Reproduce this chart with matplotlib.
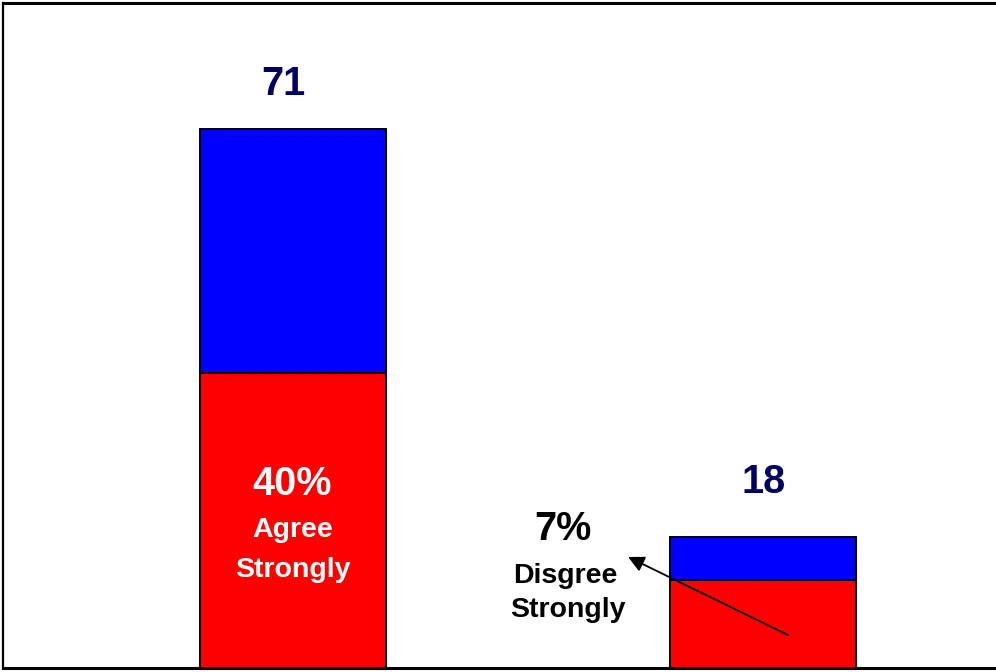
import matplotlib
matplotlib.use("Agg")
import matplotlib.pyplot as plt

# bar segments as drawn (the picture is not to scale for the second bar)
categories = ["Agree", "Disagree"]
strong_heights = [40, 13.7]
other_heights = [31, 5.5]
total_labels = ["71", "18"]
strong_labels = ["40%", "7%"]

plt.rcParams["font.family"] = ["Liberation Sans", "DejaVu Sans"]

fig = plt.figure(figsize=(9.96, 6.72), dpi=100)
ax = fig.add_axes([3 / 996, 4 / 672, 993 / 996, 665 / 672])

x = list(range(len(categories)))
ax.bar(x, strong_heights, width=0.396, color="#ff0000", edgecolor="black", linewidth=1.4)
ax.bar(x, other_heights, width=0.396, bottom=strong_heights, color="#0000ff",
       edgecolor="black", linewidth=1.4)

ax.set_xlim(-0.618, 1.497)
ax.set_ylim(2.54, 87.0)

big = 28.5
small = 20.5

# totals above the bars
ax.text(x[0] - 0.021, 75.35, total_labels[0], ha="center", va="baseline",
        fontsize=big, fontweight="bold", color="#000066")
ax.text(x[1] + 0.001, 24.78, total_labels[1], ha="center", va="baseline",
        fontsize=big, fontweight="bold", color="#000066")

# label inside the first bar
ax.text(x[0] - 0.002, 24.52, strong_labels[0], ha="center", va="baseline",
        fontsize=big, fontweight="bold", color="white")
ax.text(x[0], 19.19, "Agree", ha="center", va="baseline",
        fontsize=small, fontweight="bold", color="white")
ax.text(x[0], 14.10, "Strongly", ha="center", va="baseline",
        fontsize=small, fontweight="bold", color="white")

# label beside the second bar
ax.text(0.574, 18.80, strong_labels[1], ha="center", va="baseline",
        fontsize=big, fontweight="bold", color="black")
ax.text(0.579, 13.34, "Disgree", ha="center", va="baseline",
        fontsize=small, fontweight="bold", color="black")
ax.text(0.585, 9.02, "Strongly", ha="center", va="baseline",
        fontsize=small, fontweight="bold", color="black")

ax.annotate("", xy=(0.7135, 16.64), xytext=(1.054, 6.73),
            arrowprops=dict(arrowstyle="-|>", color="black", lw=1.3,
                            mutation_scale=24, shrinkA=0, shrinkB=0))

ax.set_xticks([])
ax.set_yticks([])
ax.spines["right"].set_visible(False)
ax.spines["top"].set_linewidth(2.2)
ax.spines["bottom"].set_linewidth(2.2)
ax.spines["left"].set_linewidth(1.6)

plt.savefig("out.png", dpi=100)
